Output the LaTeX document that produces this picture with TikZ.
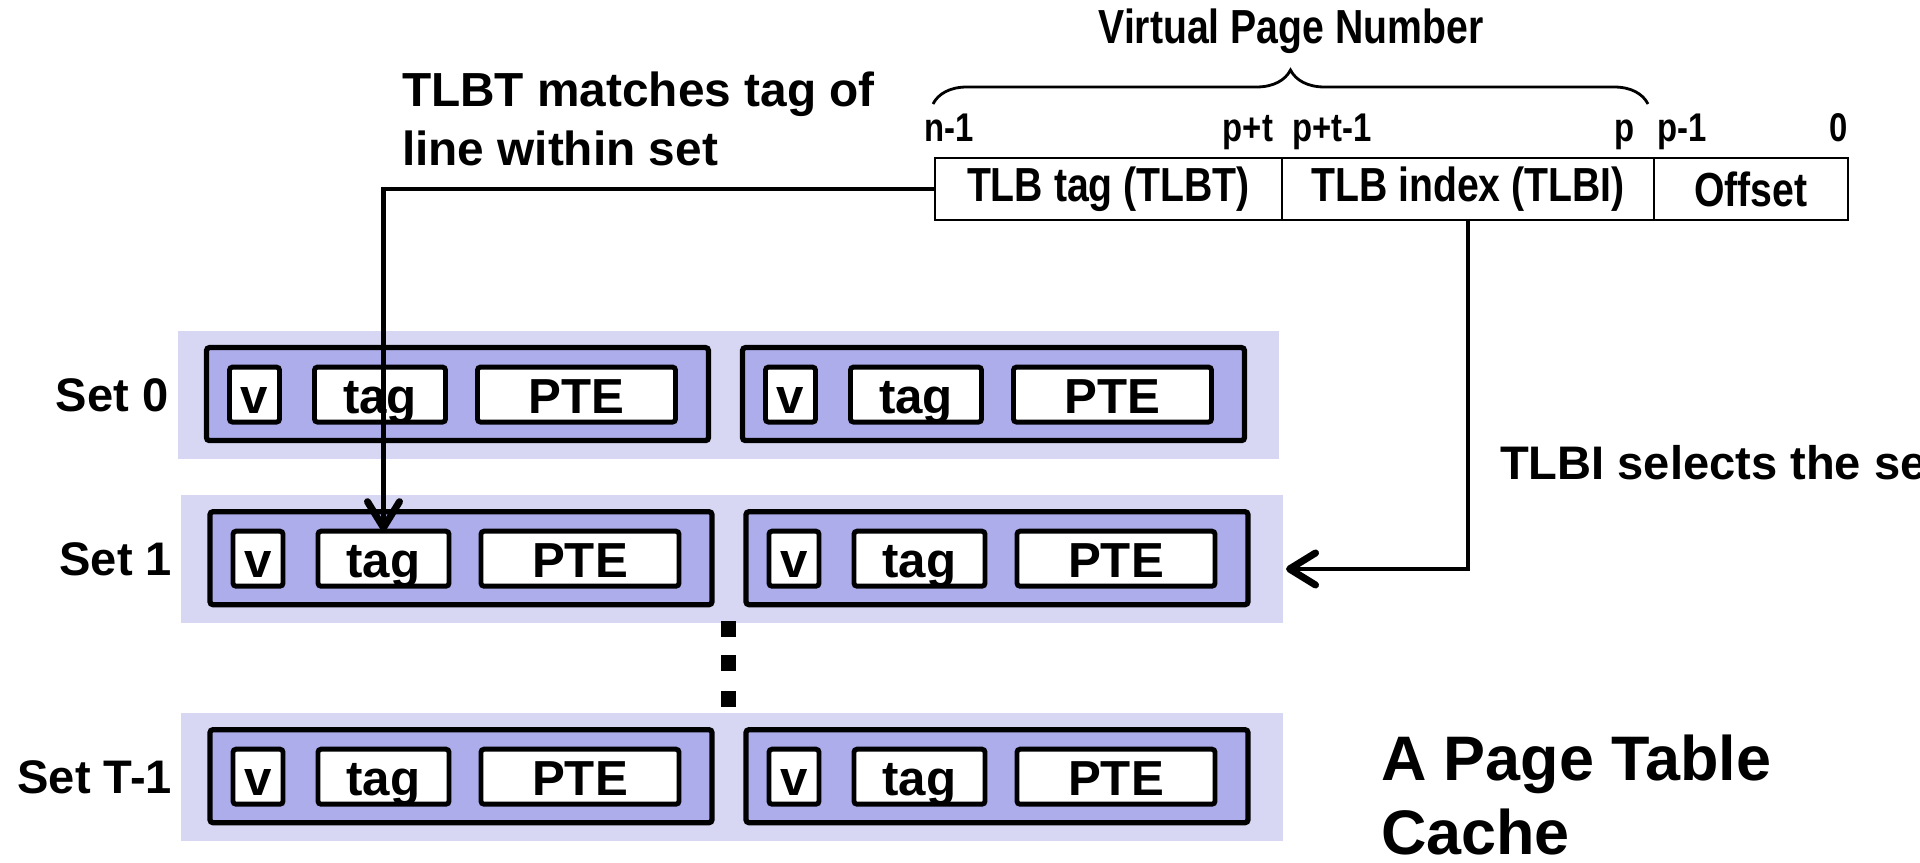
\documentclass[tikz,border=0pt]{standalone}
\usepackage{fontspec}
\setmainfont{Liberation Sans}
\newfontfamily\narrowfont{Liberation Sans}[FakeStretch=0.82]
\usetikzlibrary{positioning,arrows.meta,decorations.pathreplacing}
\definecolor{setbg}{RGB}{215,215,244}
\definecolor{linebg}{RGB}{173,173,235}

\begin{document}
\begin{tikzpicture}[x=0.1mm, y=-0.1mm, >={Straight Barb[length=2.6mm,width=3.2mm,round,line width=2pt]}, line width=1.2pt,
	every node/.style={font=\bfseries, inner sep=0pt, outer sep=0pt},
	setrow/.style={fill=setbg, minimum width=110.2mm, minimum height=12.86mm, anchor=north west},
	tlbline/.style={draw, fill=linebg, line width=1.5pt, rounded corners=0.3mm, minimum width=50.2mm, minimum height=9.3mm, anchor=north west},
	field/.style={draw, fill=white, line width=1.4pt, rounded corners=0.3mm, minimum height=5.5mm, text height=4mm, text depth=0.3mm, anchor=north west, font=\fontsize{14}{16}\bfseries},
	addr/.style={draw, line width=0.7pt, minimum height=6.2mm, font=\narrowfont\fontsize{13.6}{16}\bfseries},
	bitlbl/.style={font=\narrowfont\fontsize{11.4}{13}\bfseries},
	setlbl/.style={anchor=east, font=\fontsize{13.4}{16}\bfseries}]
	% TLB 组相联查找示意图
	\useasboundingbox (0,0) rectangle (1920,863);
	\clip (0,0) rectangle (1920,863);
	
	\node[addr, minimum width=34.7mm, anchor=north west] (tlbt) at (935,158) {TLB tag (TLBT)};
	\node[addr, minimum width=37.2mm, right=0pt of tlbt] (tlbi) {TLB index (TLBI)};
	\node[addr, minimum width=19.4mm, right=0pt of tlbi] (off) {Offset};
	
	\node[bitlbl, anchor=base west] (bn1) at ([xshift=-1.1mm, yshift=1.6mm]tlbt.north west) {n-1};
	\node[bitlbl, anchor=base east] (bpt) at ([xshift=-0.9mm, yshift=1.6mm]tlbt.north east) {p+t};
	\node[bitlbl, anchor=base west] (bpt1) at ([xshift=1mm, yshift=1.6mm]tlbi.north west) {p+t-1};
	\node[bitlbl, anchor=base east] (bp) at ([xshift=-1.9mm, yshift=1.6mm]tlbi.north east) {p};
	\node[bitlbl, anchor=base west] (bp1) at ([xshift=0.3mm, yshift=1.6mm]off.north west) {p-1};
	\node[bitlbl, anchor=base east] (b0) at ([yshift=1.6mm]off.north east) {0};
	
	\draw[decorate, decoration={brace, amplitude=3.4mm}, line width=0.8pt] ([xshift=-0.2mm, yshift=5.4mm]tlbt.north west) -- ([xshift=-0.6mm, yshift=5.4mm]tlbi.north east);
	\node[font=\narrowfont\fontsize{13.6}{16}\bfseries] (vpn) at (1291,31) {Virtual Page Number};
	
	\node[anchor=west, align=left, font=\fontsize{13.6}{16.8}\bfseries] (match) at (402,118.5) {TLBT matches tag of\\line within set};
	
	\foreach \i/\x/\y/\lab in {0/177.5/330.6/Set 0, 1/181/494.7/Set 1, T/181/712.7/Set T-1}{
		\node[setrow] (set\i) at (\x,\y) {};
		\node[setlbl] (lab\i) at ([xshift=-0.9mm]set\i.west) {\lab};
		\foreach \w/\dx in {a/2.9mm, b/56.5mm}{
			\node[tlbline] (line\i\w) at ([xshift=\dx, yshift=-1.7mm]set\i.north west) {};
			\node[field, minimum width=5mm] (v\i\w) at ([xshift=2.3mm, yshift=-1.95mm]line\i\w.north west) {v};
			\node[field, minimum width=13.1mm] (tag\i\w) at ([xshift=10.8mm, yshift=-1.95mm]line\i\w.north west) {tag};
			\node[field, minimum width=19.8mm] (pte\i\w) at ([xshift=27.1mm, yshift=-1.95mm]line\i\w.north west) {PTE};
		}
	}
	
	\foreach \d in {621, 655, 691}
		\fill (721,\d) rectangle ++(15,16);
	
	\draw[->] (tlbt.west) -| (tag1a.north);
	\coordinate (selin) at ([xshift=0.3mm, yshift=-1mm]set1.east);
	\draw[->] (tlbi.south) |- (selin);
	
	\node[anchor=west, font=\fontsize{13.4}{16}\bfseries] (sel) at (1500,463) {TLBI selects the set};
	\node[anchor=west, align=left, font=\fontsize{17.9}{20.8}\bfseries] (title) at (1381,795) {A Page Table\\Cache};
\end{tikzpicture}
\end{document}
